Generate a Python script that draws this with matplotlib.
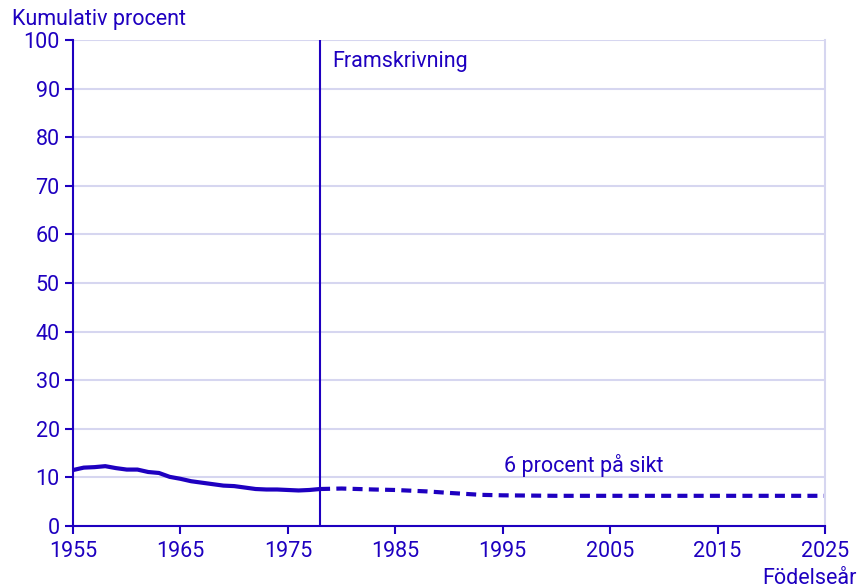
import matplotlib.pyplot as plt

# data
years_obs = [1955, 1956, 1957, 1958, 1959, 1960, 1961, 1962, 1963, 1964, 1965, 1966,
             1967, 1968, 1969, 1970, 1971, 1972, 1973, 1974, 1975, 1976, 1977, 1978]
pct_obs = [11.5, 12.0, 12.1, 12.3, 11.9, 11.6, 11.6, 11.1, 10.9, 10.1, 9.7, 9.2,
           8.9, 8.6, 8.3, 8.2, 7.9, 7.6, 7.5, 7.5, 7.4, 7.3, 7.4, 7.6]
years_proj = [1978, 1980, 1983, 1985, 1988, 1990, 1993, 1995, 2000, 2005, 2010, 2015, 2020, 2025]
pct_proj = [7.6, 7.7, 7.5, 7.4, 7.1, 6.8, 6.4, 6.3, 6.2, 6.2, 6.2, 6.2, 6.2, 6.2]
xticks = [1955, 1965, 1975, 1985, 1995, 2005, 2015, 2025]
yticks = list(range(0, 101, 10))
split_year = 1978

blue = "#1e00c0"
grid = "#d6d6f0"
fs = 15.5

plt.rcParams['font.family'] = ['Roboto', 'DejaVu Sans']

fig = plt.figure(figsize=(8.59, 5.87), dpi=100)
ax = fig.add_axes([0.085, 0.104, 0.8754, 0.828])

ax.plot(years_obs, pct_obs, color=blue, lw=3, solid_capstyle='round')
ax.plot(years_proj, pct_proj, color=blue, lw=3, ls=(0, (2.4, 1.5)))
ax.axvline(split_year, color=blue, lw=1.5)

ax.set_xlim(1955, 2025)
ax.set_ylim(0, 100)
ax.set_xticks(xticks)
ax.set_yticks(yticks)
ax.yaxis.grid(True, color=grid, lw=1.5)
ax.set_axisbelow(True)

ax.spines['top'].set_visible(False)
ax.spines['right'].set_color(grid)
ax.spines['right'].set_linewidth(1.5)
ax.spines['left'].set_color(blue)
ax.spines['bottom'].set_color(blue)
ax.spines['left'].set_linewidth(1.5)
ax.spines['bottom'].set_linewidth(1.5)
ax.tick_params(colors=blue, labelsize=fs, length=6, width=1.5)
ax.tick_params(axis='x', pad=5)

ax.text(1979.1, 95.5, "Framskrivning", color=blue, fontsize=fs, va='center')
ax.text(2002.5, 12.5, "6 procent på sikt", color=blue, fontsize=fs, ha='center', va='center')

fig.text(12 / 859, 1 - 20 / 587, "Kumulativ procent", color=blue, fontsize=fs, va='center')
fig.text(857 / 859, 1 - 578 / 587, "Födelseår", color=blue, fontsize=fs, ha='right', va='center')

fig.savefig("out.png", dpi=100)
